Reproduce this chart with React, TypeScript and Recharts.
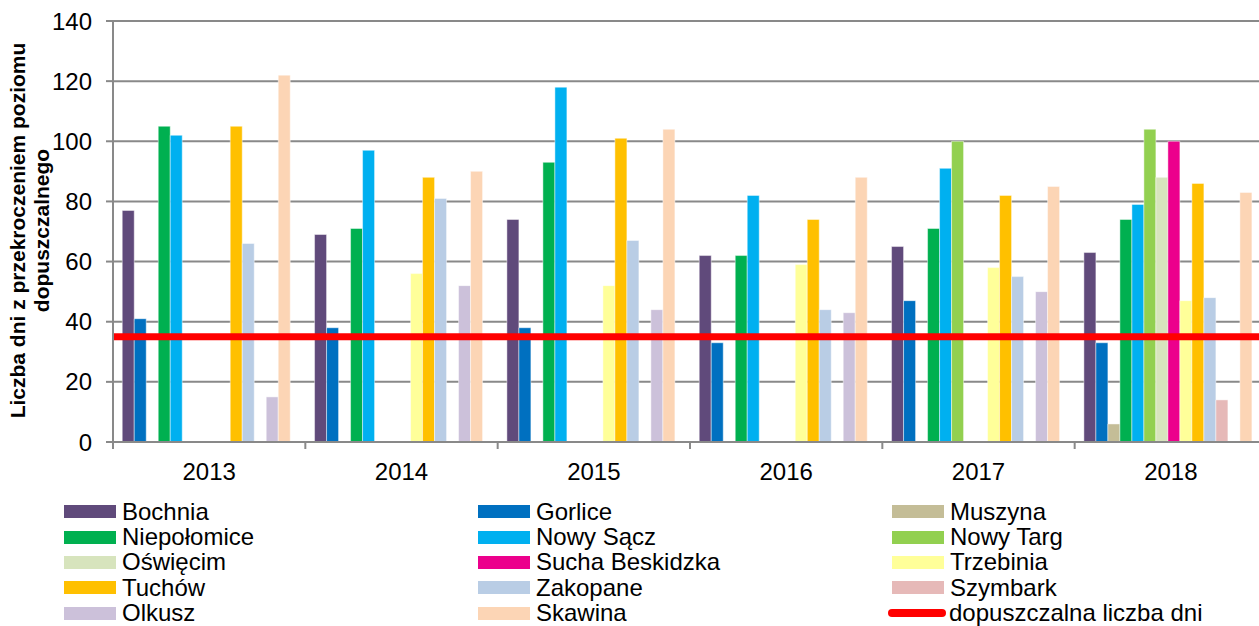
import { BarChart, Bar, XAxis, YAxis, CartesianGrid, ReferenceLine, Legend } from "recharts";

const YEARS = ["2013", "2014", "2015", "2016", "2017", "2018"];

const STATIONS = [
  "Bochnia", "Gorlice", "Muszyna", "Niepołomice", "Nowy Sącz", "Nowy Targ", "Oświęcim",
  "Sucha Beskidzka", "Trzebinia", "Tuchów", "Zakopane", "Szymbark", "Olkusz", "Skawina",
];

// days above the limit, one value per year (null = no measurement)
const BOCHNIA = [77, 69, 74, 62, 65, 63];
const GORLICE = [41, 38, 38, 33, 47, 33];
const MUSZYNA = [null, null, null, null, null, 6];
const NIEPOLOMICE = [105, 71, 93, 62, 71, 74];
const NOWY_SACZ = [102, 97, 118, 82, 91, 79];
const NOWY_TARG = [null, null, null, null, 100, 104];
const OSWIECIM = [null, null, null, null, null, 88];
const SUCHA = [null, null, null, null, null, 100];
const TRZEBINIA = [null, 56, 52, 59, 58, 47];
const TUCHOW = [105, 88, 101, 74, 82, 86];
const ZAKOPANE = [66, 81, 67, 44, 55, 48];
const SZYMBARK = [null, null, null, null, null, 14];
const OLKUSZ = [15, 52, 44, 43, 50, null];
const SKAWINA = [122, 90, 104, 88, 85, 83];

const VALUES = [
  BOCHNIA, GORLICE, MUSZYNA, NIEPOLOMICE, NOWY_SACZ, NOWY_TARG, OSWIECIM,
  SUCHA, TRZEBINIA, TUCHOW, ZAKOPANE, SZYMBARK, OLKUSZ, SKAWINA,
];

const LIMIT = 35;
const LIMIT_LABEL = "dopuszczalna liczba dni";
const Y_TICKS = [0, 20, 40, 60, 80, 100, 120, 140];

const COLORS = [
  "#604A7B", "#0070C0", "#C4BD97", "#00B050", "#00B0F0", "#92D050", "#D7E4BD",
  "#EC008C", "#FFFF99", "#FFC000", "#B9CDE5", "#E6B9B8", "#CCC1DA", "#FCD5B5",
];

const data = YEARS.map((year, i) => {
  const row: Record<string, any> = { year };
  STATIONS.forEach((s, j) => { row[s] = VALUES[j][i]; });
  return row;
});

const GRID = "#898989";
const FONT = "'Liberation Sans', Arial, sans-serif";

const XTick = (props: any) => {
  const { x, y, payload } = props;
  const left = x - (payload.offset ?? 0);
  return (
    <g>
      <line x1={left} y1={y} x2={left} y2={y + 7} stroke={GRID} strokeWidth={2} />
      <text x={x} y={y + 38} textAnchor="middle" fontSize={24} fill="#000" fontFamily={FONT}>
        {payload.value}
      </text>
    </g>
  );
};

const YLabel = (props: any) => {
  const cy = props.viewBox.y + props.viewBox.height / 2 - 1;
  return (
    <g fontFamily={FONT} fontSize={21} fontWeight="bold" fill="#000">
      <text x={25} y={cy} textAnchor="middle" transform={`rotate(-90 25 ${cy})`}>
        Liczba dni z przekroczeniem poziomu
      </text>
      <text x={49} y={cy} textAnchor="middle" transform={`rotate(-90 49 ${cy})`}>
        dopuszczalnego
      </text>
    </g>
  );
};

const LegendBox = () => {
  const items = STATIONS.map((s, i) => ({ name: s, color: COLORS[i], line: false }));
  items.push({ name: LIMIT_LABEL, color: "#FF0000", line: true });
  return (
    <div style={{
      display: "grid", gridTemplateColumns: "414px 414px 414px", gridAutoRows: "25.4px",
      fontFamily: FONT, fontSize: 24, color: "#000",
    }}>
      {items.map((it) => (
        <div key={it.name} style={{ display: "flex", alignItems: "center", whiteSpace: "nowrap", lineHeight: 1, height: 25.4 }}>
          {it.line ? (
            <span style={{ display: "inline-block", width: 58, height: 8, borderRadius: 4, background: it.color, marginLeft: -4, marginRight: 3 }} />
          ) : (
            <span style={{ display: "inline-block", width: 52, height: 13, background: it.color, marginRight: 6 }} />
          )}
          <span>{it.name}</span>
        </div>
      ))}
    </div>
  );
};

export default function App() {
  return (
    <div style={{ position: "fixed", left: 0, top: 0, width: 1259, height: 626, overflow: "hidden", background: "#fff" }}>
      <BarChart
        width={1280}
        height={626}
        data={data}
        margin={{ top: 21, right: 13, left: 0, bottom: 0 }}
        barCategoryGap="4.8%"
        barGap={0}
        style={{ fontFamily: FONT }}
      >
        <CartesianGrid vertical={false} stroke={GRID} strokeWidth={2} />
        <XAxis
          dataKey="year"
          height={184}
          interval={0}
          tickLine={false}
          tickSize={0}
          tickMargin={0}
          axisLine={{ stroke: GRID, strokeWidth: 2 }}
          tick={<XTick />}
        />
        <YAxis
          width={113}
          domain={[0, 140]}
          ticks={Y_TICKS}
          interval={0}
          tickSize={7}
          tickMargin={14}
          axisLine={{ stroke: GRID, strokeWidth: 2 }}
          tickLine={{ stroke: GRID, strokeWidth: 2 }}
          tick={{ fill: "#000", fontSize: 24, fontFamily: FONT }}
          label={<YLabel />}
        />
        {STATIONS.map((s, i) => (
          <Bar
            key={s}
            dataKey={s}
            fill={COLORS[i]}
            stroke="rgba(255,255,255,0.45)"
            strokeWidth={1}
            isAnimationActive={false}
          />
        ))}
        <ReferenceLine y={LIMIT} stroke="#FF0000" strokeWidth={7} />
        <Legend
          layout="horizontal"
          verticalAlign="middle"
          align="center"
          content={<LegendBox />}
          wrapperStyle={{ top: 499, left: 64, width: 1250 }}
        />
      </BarChart>
    </div>
  );
}
